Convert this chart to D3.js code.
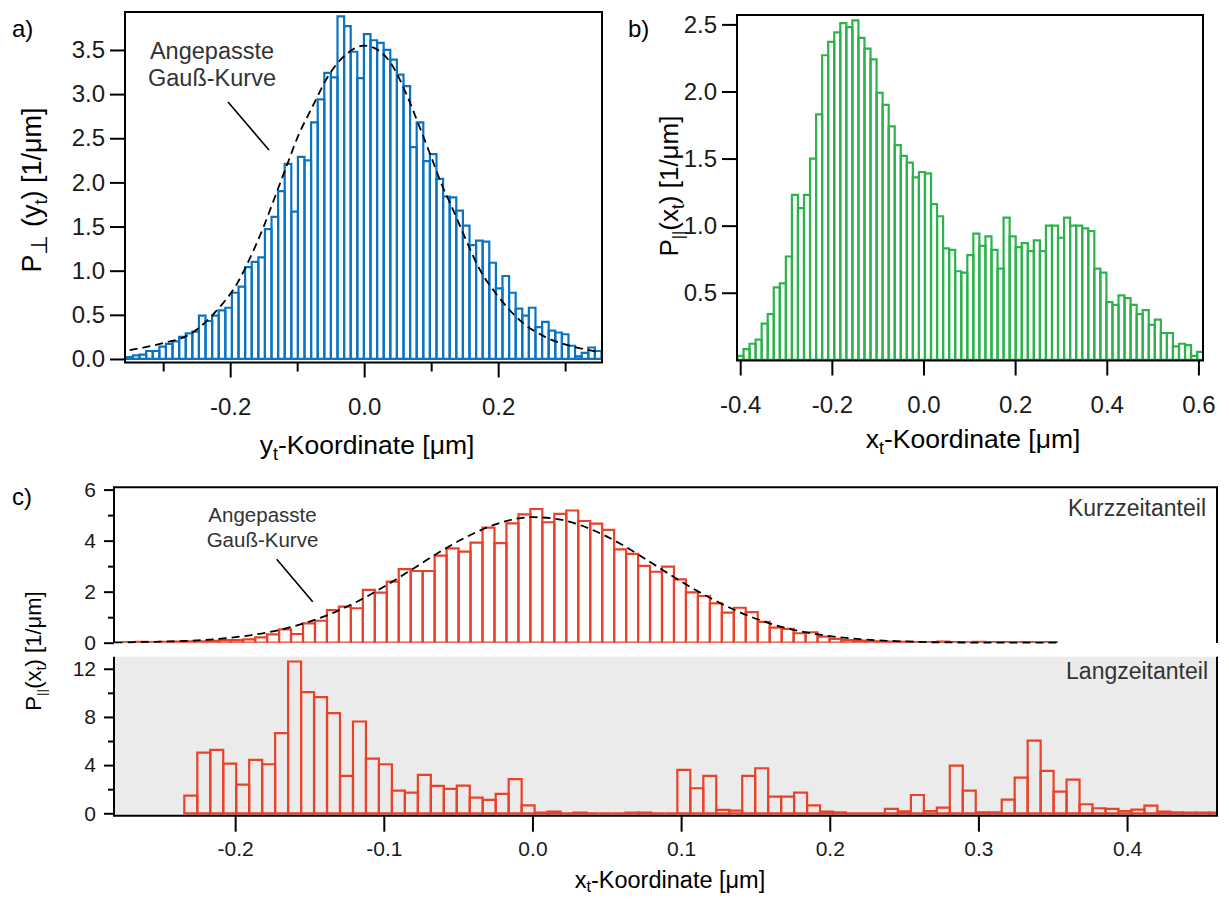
<!DOCTYPE html>
<meta charset="utf-8">
<style>
body { margin: 0; background: #fff; }
svg { font-family: "Liberation Sans", Arial, Helvetica, sans-serif; }
.tick line { stroke: #000; stroke-width: 2px; }
.tick text { fill: #1a1a1a; }
.big .tick text { font-size: 24px; }
.small .tick text { font-size: 21px; }
.frame { fill: none; stroke: #000; stroke-width: 2px; }
.fit { fill: none; stroke: #000; stroke-width: 1.8px; stroke-dasharray: 8,5; }
.note { fill: #333; }
</style>
<svg width="1229" height="899"></svg>
<script src="https://d3js.org/d3.v7.min.js"></script>
<script>

var svg = d3.select("svg");

// ---------- data ----------

// a) P_perp(y_t), blue histogram
var aBinStart = -0.355, aBinWidth = 0.00985;
var aValues = [0.02, 0.04, 0.05, 0.09, 0.09, 0.14, 0.17, 0.20, 0.25, 0.29,
               0.31, 0.49, 0.43, 0.49, 0.55, 0.58, 0.75, 0.82, 1.04, 1.10,
               1.15, 1.47, 1.61, 1.90, 2.21, 1.67, 2.29, 2.25, 2.68, 2.94,
               3.24, 3.19, 3.88, 3.77, 3.48, 3.18, 3.68, 3.61, 3.58, 3.50,
               3.39, 3.22, 3.09, 2.40, 2.68, 2.24, 2.32, 2.04, 1.84, 1.83,
               1.68, 1.51, 1.29, 1.34, 1.33, 1.09, 0.80, 0.94, 0.75, 0.57,
               0.49, 0.58, 0.36, 0.42, 0.32, 0.30, 0.28, 0.15, 0.03, 0.07,
               0.13, 0.09];
// fitted gauss curve in a)
var aFitX = [-0.35, -0.30, -0.26, -0.22, -0.19, -0.17, -0.15, -0.13, -0.115, -0.10,
             -0.077, -0.054, -0.027, 0.0, 0.013, 0.038, 0.063, 0.08, 0.098, 0.115,
             0.135, 0.153, 0.172, 0.20, 0.232, 0.27, 0.312, 0.35];
var aFitY = [0.10, 0.18, 0.28, 0.55, 0.85, 1.15, 1.50, 1.90, 2.20, 2.50,
             2.86, 3.20, 3.45, 3.55, 3.53, 3.37, 3.00, 2.68, 2.33, 1.99,
             1.65, 1.33, 1.02, 0.71, 0.44, 0.25, 0.14, 0.08];

// b) P_par(x_t), green histogram
var bBinStart = -0.406, bBinWidth = 0.0132;
var bValues = [0.03, 0.08, 0.12, 0.15, 0.27, 0.34, 0.54, 0.57, 0.77, 1.23,
               1.13, 1.23, 1.50, 1.83, 2.27, 2.37, 2.44, 2.51, 2.48, 2.53,
               2.40, 2.32, 2.24, 1.99, 1.90, 1.74, 1.60, 1.52, 1.47, 1.36,
               1.40, 1.39, 1.16, 1.07, 0.83, 0.82, 0.66, 0.65, 0.78, 0.94,
               0.85, 0.92, 0.82, 0.68, 1.06, 0.92, 0.84, 0.87, 0.81, 0.89,
               0.81, 1.00, 1.00, 0.91, 1.06, 1.00, 1.00, 0.98, 0.96, 0.68,
               0.65, 0.43, 0.41, 0.48, 0.46, 0.41, 0.34, 0.37, 0.26, 0.30,
               0.20, 0.20, 0.10, 0.12, 0.11, 0.03, 0.06];

// c) Kurzzeitanteil
var cTopBinStart = -0.2751, cTopBinWidth = 0.00805;
var cTopValues = [0.02, 0.03, 0.02, 0.03, 0.04, 0.05, 0.05, 0.07, 0.10, 0.10,
                  0.13, 0.21, 0.33, 0.52, 0.34, 0.76, 0.86, 1.28, 1.41, 1.35,
                  2.07, 1.96, 2.39, 2.88, 2.81, 2.81, 3.41, 3.70, 3.57, 3.92,
                  4.51, 3.90, 4.68, 5.03, 5.24, 4.72, 5.05, 5.18, 4.77, 4.67,
                  4.42, 3.66, 3.48, 3.01, 2.78, 2.98, 2.48, 1.97, 1.83, 1.54,
                  1.18, 1.37, 1.20, 0.82, 0.59, 0.54, 0.37, 0.41, 0.24, 0.15,
                  0.10, 0.08, 0.05, 0.04, 0.03, 0.03, 0.02, 0.02, 0.04, 0.02,
                  0.01, 0.03, 0.02, 0.02, 0.01, 0.02, 0.01, 0.02];
var cFitX = [-0.281, -0.25, -0.22, -0.19, -0.17, -0.155, -0.14, -0.12, -0.10, -0.08,
             -0.06, -0.04, -0.02, 0.0, 0.02, 0.04, 0.06, 0.08, 0.10, 0.12,
             0.14, 0.16, 0.18, 0.20, 0.22, 0.25, 0.28, 0.3525];
var cFitY = [0.01, 0.04, 0.11, 0.29, 0.50, 0.74, 1.03, 1.55, 2.19, 2.91,
             3.64, 4.27, 4.73, 4.92, 4.81, 4.43, 3.85, 3.13, 2.40, 1.74,
             1.18, 0.75, 0.45, 0.26, 0.14, 0.05, 0.01, 0.0];

// c) Langzeitanteil
var cBotBinStart = -0.2342, cBotBinWidth = 0.008728;
var cBotValues = [1.47, 5.04, 5.26, 4.13, 2.38, 4.43, 4.07, 6.65, 12.6, 10.06,
                  9.64, 8.31, 3.10, 7.62, 4.54, 4.07, 1.88, 1.72, 3.19, 2.27,
                  2.02, 2.30, 1.30, 1.11, 1.61, 2.83, 0.66, 0.06, 0.14, 0.00,
                  0.06, 0.00, 0.00, 0.00, 0.06, 0.06, 0.00, 0.00, 3.60, 2.08,
                  3.10, 0.28, 0.22, 3.10, 3.74, 1.39, 1.39, 1.72, 0.66, 0.14,
                  0.08, 0.00, 0.00, 0.00, 0.36, 0.17, 1.52, 0.19, 0.47, 3.96,
                  1.88, 0.08, 0.08, 1.14, 2.96, 6.04, 3.52, 1.80, 2.80, 0.75,
                  0.42, 0.36, 0.19, 0.30, 0.64, 0.14, 0.08, 0.06, 0.06, 0.06];

// tick values
var aXTicks = [-0.2, 0, 0.2], aXMinor = [-0.3, -0.1, 0.1, 0.3];
var aYTicks = [0, 0.5, 1, 1.5, 2, 2.5, 3, 3.5];
var bXTicks = [-0.4, -0.2, 0, 0.2, 0.4, 0.6];
var bYTicks = [0.5, 1, 1.5, 2, 2.5];
var cXTicks = [-0.2, -0.1, 0, 0.1, 0.2, 0.3, 0.4];
var cTopYTicks = [0, 2, 4, 6], cTopYMinor = [1, 3, 5];
var cBotYTicks = [0, 4, 8, 12], cBotYMinor = [2, 6, 10];

// colours
var blue = "#0a74c4", green = "#2cb34c", red = "#ea4129";

// ---------- scales ----------
var xa = d3.scaleLinear().domain([-0.357, 0.355]).range([125, 602]);
var ya = d3.scaleLinear().domain([-0.04, 3.93]).range([362.5, 12]);
var xb = d3.scaleLinear().domain([-0.407, 0.610]).range([737, 1203]);
var yb = d3.scaleLinear().domain([-0.005, 2.57]).range([360.5, 15]);
var xc = d3.scaleLinear().domain([-0.2815, 0.4605]).range([114, 1217]);
var ycTop = d3.scaleLinear().domain([0, 6.09]).range([642.7, 487.3]);
var ycBot = d3.scaleLinear().domain([-0.2, 13.0]).range([815.7, 656.7]);

var f1 = function(d) { return d3.format(".1f")(d).replace("\u2212", "-"); };
var f0 = d3.format("d");

var defs = svg.append("defs");
function clip(id, x, y) {
  defs.append("clipPath").attr("id", id).append("rect")
    .attr("x", x.range()[0]).attr("y", y.range()[1])
    .attr("width", x.range()[1] - x.range()[0])
    .attr("height", y.range()[0] - y.range()[1]);
  return "url(#" + id + ")";
}

// histogram drawn as outlined bins
function bars(values, start, w, x, y, color, clipId) {
  svg.append("g").attr("clip-path", clip(clipId, x, y))
    .selectAll("path").data(values).join("path")
      .attr("d", function(d, i) {
        var x0 = x(start + i * w), x1 = x(start + (i + 1) * w);
        return "M" + x0 + "," + y(0) + "V" + y(d) + "H" + x1 + "V" + y(0) + "Z";
      })
      .attr("fill", "none")
      .attr("stroke", color)
      .attr("stroke-width", 2.2);
}

function fit(xs, ys, x, y) {
  var line = d3.line()
    .x(function(d) { return x(d[0]); })
    .y(function(d) { return y(d[1]); })
    .curve(d3.curveMonotoneX);
  svg.append("path").attr("class", "fit").attr("d", line(d3.zip(xs, ys)));
}

function axis(gen, values, size, pad, fmt, tx, ty, cls) {
  var g = svg.append("g").attr("class", cls)
    .attr("transform", "translate(" + tx + "," + ty + ")")
    .call(gen.tickValues(values).tickSize(size).tickPadding(pad).tickFormat(fmt));
  g.select(".domain").remove();
  g.attr("font-family", null).attr("font-size", null);
  return g;
}

// text with subscript pieces: [[str, subSize or 0], ...]
function rich(t, pieces, shift) {
  var cur = 0;
  pieces.forEach(function(p) {
    var target = p[1] ? shift : 0;
    t.append("tspan")
      .attr("dy", target - cur)
      .attr("font-size", p[1] ? p[1] : null)
      .text(p[0]);
    cur = target;
  });
  return t;
}

// ---------- panel a ----------
bars(aValues, aBinStart, aBinWidth, xa, ya, blue, "clipA");
fit(aFitX, aFitY, xa, ya);
svg.append("rect").attr("class", "frame")
  .attr("x", 125).attr("y", 12).attr("width", 477).attr("height", 350.5);
axis(d3.axisLeft(ya), aYTicks, 15, 5, f1, 125, 0, "big");
axis(d3.axisBottom(xa), aXTicks, 15, 20, f1, 0, 362.5, "big");
axis(d3.axisBottom(xa), aXMinor, 9, 0, "", 0, 362.5, "big");

svg.append("text").attr("class", "note").attr("x", 212).attr("y", 59)
  .attr("text-anchor", "middle").attr("font-size", 23.5).text("Angepasste");
svg.append("text").attr("class", "note").attr("x", 212).attr("y", 86)
  .attr("text-anchor", "middle").attr("font-size", 23.5).text("Gauß-Kurve");
svg.append("line").attr("x1", 228).attr("y1", 102).attr("x2", 269).attr("y2", 150)
  .attr("stroke", "#000").attr("stroke-width", 1.6);

rich(svg.append("text").attr("x", 367).attr("y", 454).attr("text-anchor", "middle")
  .attr("font-size", 26.5),
  [["y", 0], ["t", "68%"], ["-Koordinate [\u03bcm]", 0]], 6);
rich(svg.append("text").attr("transform", "translate(41,190) rotate(-90)")
  .attr("text-anchor", "middle").attr("font-size", 27),
  [["P", 0], ["\u22a5", "85%"], [" (y", 0], ["t", "68%"], [") [1/\u03bcm]", 0]], 6);
svg.append("text").attr("x", 12).attr("y", 37).attr("font-size", 24).text("a)");

// ---------- panel b ----------
bars(bValues, bBinStart, bBinWidth, xb, yb, green, "clipB");
svg.append("rect").attr("class", "frame")
  .attr("x", 737).attr("y", 15).attr("width", 466).attr("height", 345.5);
axis(d3.axisLeft(yb), bYTicks, 15, 5, f1, 737, 0, "big");
axis(d3.axisBottom(xb), bXTicks, 15, 20, f1, 0, 360.5, "big");

rich(svg.append("text").attr("x", 973).attr("y", 448).attr("text-anchor", "middle")
  .attr("font-size", 26.5),
  [["x", 0], ["t", "68%"], ["-Koordinate [\u03bcm]", 0]], 6);
rich(svg.append("text").attr("transform", "translate(678,186) rotate(-90)")
  .attr("text-anchor", "middle").attr("font-size", 26),
  [["P", 0], ["||", "62%"], ["(x", 0], ["t", "68%"], [") [1/\u03bcm]", 0]], 6);
svg.append("text").attr("x", 628).attr("y", 37).attr("font-size", 24).text("b)");

// ---------- panel c ----------
svg.append("rect").attr("x", 114).attr("y", 656.7).attr("width", 1103).attr("height", 159)
  .attr("fill", "#ebebeb");

bars(cTopValues, cTopBinStart, cTopBinWidth, xc, ycTop, red, "clipCT");
fit(cFitX, cFitY, xc, ycTop);
bars(cBotValues, cBotBinStart, cBotBinWidth, xc, ycBot, red, "clipCB");

svg.append("path").attr("class", "frame").attr("d", "M114,643V487.3H1217V643");
svg.append("path").attr("class", "frame").attr("d", "M114,656.7V815.7H1217V656.7");

axis(d3.axisLeft(ycTop), cTopYTicks, 10, 8, f0, 114, 0, "small");
axis(d3.axisLeft(ycTop), cTopYMinor, 6, 0, "", 114, 0, "small");
axis(d3.axisLeft(ycBot), cBotYTicks, 10, 8, f0, 114, 0, "small");
axis(d3.axisLeft(ycBot), cBotYMinor, 6, 0, "", 114, 0, "small");
axis(d3.axisBottom(xc), cXTicks, 16, 9, f1, 0, 815.7, "small");

svg.append("text").attr("class", "note").attr("x", 262.5).attr("y", 522)
  .attr("text-anchor", "middle").attr("font-size", 20.5).text("Angepasste");
svg.append("text").attr("class", "note").attr("x", 262.5).attr("y", 547)
  .attr("text-anchor", "middle").attr("font-size", 20.5).text("Gauß-Kurve");
svg.append("line").attr("x1", 276.7).attr("y1", 559.3).attr("x2", 312.7).attr("y2", 601.7)
  .attr("stroke", "#000").attr("stroke-width", 1.6);

svg.append("text").attr("class", "note").attr("x", 1206).attr("y", 516)
  .attr("text-anchor", "end").attr("font-size", 23).text("Kurzzeitanteil");
svg.append("text").attr("class", "note").attr("x", 1208).attr("y", 679)
  .attr("text-anchor", "end").attr("font-size", 23).text("Langzeitanteil");

rich(svg.append("text").attr("x", 670).attr("y", 888).attr("text-anchor", "middle")
  .attr("font-size", 23.5),
  [["x", 0], ["t", "68%"], ["-Koordinate [\u03bcm]", 0]], 4);
rich(svg.append("text").attr("transform", "translate(41,651) rotate(-90)")
  .attr("text-anchor", "middle").attr("font-size", 22),
  [["P", 0], ["||", "62%"], ["(x", 0], ["t", "68%"], [") [1/\u03bcm]", 0]], 5);
svg.append("text").attr("x", 12).attr("y", 505).attr("font-size", 24).text("c)");

</script>
